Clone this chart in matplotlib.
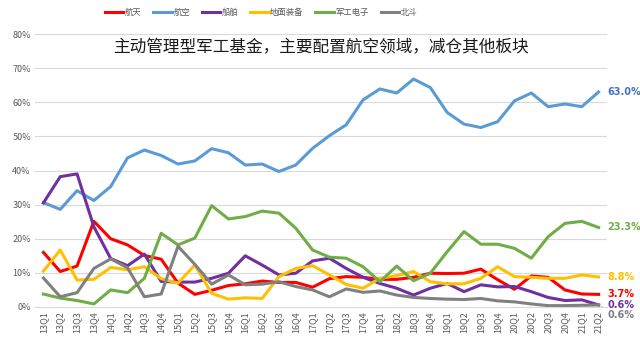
import matplotlib
matplotlib.use("Agg")
import matplotlib.pyplot as plt
import numpy as np

plt.rcParams['font.family'] = ['Noto Sans CJK SC', 'DejaVu Sans']

# quarters 13Q1 .. 21Q2
quarters = [f"{y}Q{q}" for y in range(13, 21) for q in range(1, 5)] + ["21Q1", "21Q2"]

# fund allocation share by sector (%)
hangtian = [16.0, 10.4, 12.0, 25.1, 20.0, 18.2, 15.1, 14.0, 7.0, 3.7, 4.9, 6.3, 6.8, 7.6, 7.2, 7.2, 5.8,
            8.3, 8.9, 8.7, 8.1, 8.1, 8.7, 9.9, 9.8, 9.9, 11.1, 8.0, 5.2, 9.1, 8.7, 5.0, 3.8, 3.7]
hangkong = [30.6, 28.6, 34.1, 31.2, 35.3, 43.7, 46.0, 44.4, 41.9, 42.8, 46.4, 45.2, 41.6, 41.9, 39.7, 41.6,
            46.5, 50.2, 53.4, 60.7, 63.9, 62.7, 66.8, 64.3, 57.0, 53.6, 52.6, 54.3, 60.4, 62.7, 58.7, 59.5,
            58.7, 63.0]
chuanbo = [30.5, 38.2, 39.0, 23.5, 14.2, 12.1, 15.5, 7.5, 7.3, 7.3, 8.4, 9.9, 15.0, 12.3, 9.4, 9.9, 13.5,
           14.3, 11.3, 8.7, 6.9, 5.5, 3.5, 5.5, 6.9, 4.5, 6.5, 5.9, 6.0, 4.5, 2.8, 1.9, 2.1, 0.6]
dimian = [10.5, 16.7, 7.9, 8.1, 11.6, 10.9, 11.8, 8.3, 7.0, 12.3, 4.0, 2.3, 2.7, 2.5, 8.9, 11.3, 12.1,
          9.4, 6.6, 5.5, 8.4, 9.2, 10.4, 7.4, 6.8, 6.8, 8.4, 11.8, 8.9, 8.7, 8.4, 8.4, 9.4, 8.8]
dianzi = [3.8, 2.6, 1.9, 0.9, 5.0, 4.2, 8.4, 21.6, 18.2, 20.2, 29.7, 25.8, 26.5, 28.1, 27.5, 23.1, 16.7,
          14.6, 14.3, 11.8, 7.4, 12.0, 7.7, 9.9, 16.2, 22.1, 18.4, 18.4, 17.2, 14.3, 20.6, 24.5, 25.1, 23.3]
beidou = [8.5, 3.0, 4.2, 11.3, 14.1, 11.5, 3.0, 3.8, 17.8, 12.5, 6.7, 9.4, 6.5, 6.7, 7.4, 6.0, 5.0, 3.0,
          5.3, 4.3, 4.7, 3.5, 2.8, 2.5, 2.3, 2.2, 2.5, 1.8, 1.5, 0.9, 0.4, 0.4, 0.5, 0.6]

names = ["航天", "航空", "船舶", "地面装备", "军工电子", "北斗"]
series = [hangtian, hangkong, chuanbo, dimian, dianzi, beidou]
colors = ["#FF0000", "#5B9BD5", "#7030A0", "#FFC000", "#70AD47", "#808080"]
label_colors = ["#FF0000", "#4472C4", "#7030A0", "#FFC000", "#70AD47", "#808080"]

fig = plt.figure(figsize=(6.4, 3.38), dpi=100)
ax = fig.add_axes([35 / 640, 31 / 338, 572 / 640, 273 / 338])

x = np.arange(len(quarters))
for name, vals, c in zip(names, series, colors):
    ax.plot(x, vals, color=c, lw=2.2, label=name, solid_joinstyle="round")

ax.set_xlim(-0.5, len(quarters) - 0.5)
ax.set_ylim(0, 80)
ax.set_yticks(np.arange(0, 81, 10))
ax.set_yticklabels([f"{v}%" for v in range(0, 81, 10)])
ax.set_xticks(x)
ax.set_xticklabels(quarters, rotation=90)
ax.tick_params(axis="both", length=0, labelsize=6.5, colors="#595959", pad=3)
ax.grid(axis="y", color="#D9D9D9", lw=0.8)
ax.set_axisbelow(True)
for s in ["top", "right", "left"]:
    ax.spines[s].set_visible(False)
ax.spines["bottom"].set_color("#D9D9D9")

# end-of-line value labels
for vals, c, dy in zip(series, label_colors, [0, 0, 0, 0, 0, -7.5]):
    ax.annotate(f"{vals[-1]:.1f}%", xy=(len(vals) - 1, vals[-1]), xytext=(6.5, dy),
                textcoords="offset points", color=c, fontsize=7, fontweight="bold",
                va="center", ha="left", family="DejaVu Sans",
                arrowprops=dict(arrowstyle="-", color="#BFBFBF", lw=0.6) if dy else None)

ax.text(0.5, 0.95, "主动管理型军工基金，主要配置航空领域，减仓其他板块", transform=ax.transAxes,
        ha="center", va="center", fontsize=12, color="#1A1A1A")

fig.legend(loc="center", bbox_to_anchor=(0.408, 0.962), ncol=6, frameon=False, fontsize=6,
           handlelength=2.2, handletextpad=0.2, columnspacing=1.4, labelcolor="#595959")

fig.savefig("out.png", dpi=100, facecolor="white")
